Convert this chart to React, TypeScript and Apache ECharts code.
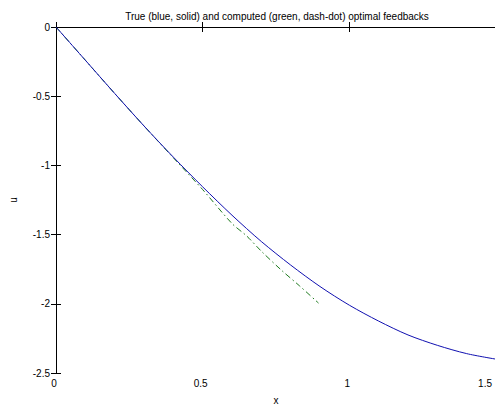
import React, { useEffect, useRef } from "react";
import * as echarts from "echarts";

const titleText = "True (blue, solid) and computed (green, dash-dot) optimal feedbacks";
const xTicks = [0, 0.5, 1, 1.5];
const yTicks = [0, -0.5, -1, -1.5, -2, -2.5];

const trueX = [0, 0.1, 0.2, 0.3, 0.4, 0.5, 0.6, 0.7, 0.8, 0.9, 1.0, 1.1, 1.2, 1.3, 1.4, 1.5];
const trueU = [0, -0.24, -0.48, -0.715, -0.94, -1.155, -1.36, -1.55, -1.72, -1.875, -2.01, -2.125, -2.225, -2.3, -2.36, -2.4];

const compX = [0, 0.1, 0.2, 0.3, 0.4, 0.5, 0.6, 0.65, 0.7, 0.77, 0.83, 0.895];
const compU = [0, -0.24, -0.48, -0.715, -0.945, -1.175, -1.42, -1.51, -1.62, -1.76, -1.87, -1.995];

export default function App() {
  const ref = useRef<HTMLDivElement>(null);
  useEffect(() => {
    if (!ref.current) return;
    const chart = echarts.init(ref.current, undefined, { renderer: "svg" });
    const font = "Liberation Sans, Arial, sans-serif";
    const axisCommon = {
      type: "value" as const,
      axisLine: { show: true, lineStyle: { color: "#000", width: 1 } },
      axisTick: { show: true, inside: true, length: 5, lineStyle: { color: "#000" } },
      splitLine: { show: false },
    };
    chart.setOption({
      animation: false,
      backgroundColor: "#fff",
      title: {
        text: titleText,
        left: 272,
        textAlign: "center",
        top: 6,
        textStyle: { fontSize: 10, fontWeight: "normal", color: "#000", fontFamily: font },
      },
      grid: { left: 50, top: 27, width: 446, height: 352, containLabel: false },
      xAxis: [
        {
          ...axisCommon,
          min: 0,
          max: 1.5,
          interval: 0.5,
          position: "bottom",
          name: "x",
          nameLocation: "middle",
          nameGap: 22,
          nameTextStyle: { fontSize: 10, color: "#000", fontFamily: font },
          axisLabel: {
            fontSize: 10,
            color: "#000",
            fontFamily: font,
            margin: 5,
            alignMaxLabel: "right",
            padding: [0, 4, 0, 0],
            formatter: (v: number) => (xTicks.includes(v) ? String(v) : ""),
          },
        },
        {
          ...axisCommon,
          min: 0,
          max: 1.5,
          interval: 0.5,
          position: "top",
          axisLabel: { show: false },
        },
      ],
      yAxis: [
        {
          ...axisCommon,
          min: -2.5,
          max: 0,
          interval: 0.5,
          position: "left",
          name: "u",
          nameLocation: "middle",
          nameGap: 38,
          nameRotate: 90,
          nameTextStyle: { fontSize: 10, color: "#000", fontFamily: font },
          axisLabel: {
            fontSize: 10,
            color: "#000",
            fontFamily: font,
            margin: 6,
            formatter: (v: number) => (yTicks.includes(v) ? String(v) : ""),
          },
        },
        {
          ...axisCommon,
          min: -2.5,
          max: 0,
          interval: 0.5,
          position: "right",
          axisLabel: { show: false },
        },
      ],
      series: [
        {
          type: "line",
          xAxisIndex: 0,
          yAxisIndex: 0,
          data: compX.map((x, i) => [x, compU[i]]),
          showSymbol: false,
          smooth: 0.3,
          lineStyle: { color: "#1f7a1f", width: 1, type: [6, 3, 1.5, 3] },
          z: 2,
        },
        {
          type: "line",
          xAxisIndex: 0,
          yAxisIndex: 0,
          data: trueX.map((x, i) => [x, trueU[i]]),
          showSymbol: false,
          smooth: 0.3,
          lineStyle: { color: "#1010b0", width: 1, type: "solid" },
          z: 3,
        },
      ],
    });
    return () => chart.dispose();
  }, []);
  return (
    <div style={{ position: "fixed", left: 0, top: 0, width: 495, height: 410, overflow: "hidden", background: "#fff" }}>
      <div ref={ref} style={{ width: 520, height: 410 }} />
    </div>
  );
}
